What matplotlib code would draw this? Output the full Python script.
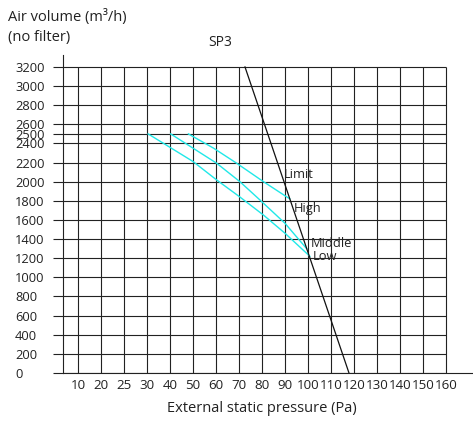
import numpy as np
import matplotlib
matplotlib.use("Agg")
import matplotlib.pyplot as plt
from matplotlib.ticker import FixedLocator, NullLocator

plt.rcParams['font.family'] = ['Open Sans', 'DejaVu Sans']

# ---- data ----
x_ticks = [10, 20, 25, 30, 40, 50, 60, 70, 80, 90, 100, 110, 120, 130, 140, 150, 160]
y_ticks = [0, 200, 400, 600, 800, 1000, 1200, 1400, 1600, 1800, 2000, 2200, 2400, 2500,
           2600, 2800, 3000, 3200]

low_p = [30.5, 50.1, 60.2, 70.4, 80.6, 90.0, 100.8]
low_q = [2500, 2210, 2020, 1840, 1652, 1461, 1220]
mid_p = [40.3, 60.3, 70.4, 79.1, 90.0, 99.4]
mid_q = [2500, 2193, 2000, 1809, 1565, 1300]
high_p = [48.0, 59.0, 69.0, 80.6, 92.1]
high_q = [2500, 2350, 2193, 2001, 1820]
limit_p = [72.6, 117.8]
limit_q = [3200, 0]

labels = ["Limit", "High", "Middle", "Low"]
label_p = [89.6, 93.9, 101.3, 102.2]
label_q = [2071, 1715, 1349, 1213]

# ---- categorical-like pressure scale ----
map_pa = [0] + x_ticks + [170, 180]
map_ix = list(range(-1, len(x_ticks) + 2))


def fwd(x):
    return np.interp(x, map_pa, map_ix)


def inv(i):
    return np.interp(i, map_ix, map_pa)


fig = plt.figure(figsize=(4.73, 4.22), dpi=100)
ax = fig.add_axes([63 / 473, (422 - 373) / 422, (473 - 63) / 473, (373 - 55) / 422])
ax.set_xscale('function', functions=(fwd, inv))
ax.set_xlim(3.5, 171.7)
ax.set_ylim(0, 3325)

gc = '#222222'
glw = 0.8
ax.hlines(y_ticks, 3.5, 160, colors=gc, linewidth=glw, zorder=1)
ax.vlines(x_ticks, 0, 3200, colors=gc, linewidth=glw, zorder=1)

cyan = '#20e8e8'
ax.plot(low_p, low_q, color=cyan, lw=1.0, zorder=3)
ax.plot(mid_p, mid_q, color=cyan, lw=1.0, zorder=3)
ax.plot(high_p, high_q, color=cyan, lw=1.0, zorder=3)
ax.plot(limit_p, limit_q, color='#111111', lw=0.9, zorder=4)

for t, p, q in zip(labels, label_p, label_q):
    ax.text(p, q, t, fontsize=9.3, color='#222222', ha='left', va='center', zorder=5)

for s in ['top', 'right']:
    ax.spines[s].set_visible(False)
for s in ['left', 'bottom']:
    ax.spines[s].set_color(gc)
    ax.spines[s].set_linewidth(glw)

ax.xaxis.set_major_locator(FixedLocator(x_ticks))
ax.xaxis.set_minor_locator(NullLocator())
ax.set_xticklabels([str(v) for v in x_ticks])
ax.yaxis.set_major_locator(FixedLocator(y_ticks))
ax.yaxis.set_minor_locator(NullLocator())
ax.set_yticklabels([str(v) for v in y_ticks])

ax.tick_params(axis='x', length=0, pad=4, labelsize=9.6, labelcolor='#222222')
ax.tick_params(axis='y', length=7.2, width=glw, color=gc, direction='out',
               pad=27.4, labelsize=9.3, labelcolor='#222222')
for lab in ax.get_yticklabels():
    lab.set_horizontalalignment('left')

ax.set_xlabel('External static pressure (Pa)', fontsize=10.5, color='#222222', labelpad=3)
ax.xaxis.set_label_coords((262 - 63) / (473 - 63), -(408 - 373) / (373 - 55), transform=ax.transAxes)
ax.xaxis.label.set_verticalalignment('center')

fig.text(8 / 473, 1 - 17 / 422, 'Air volume (m³/h)', fontsize=10.5, color='#222222',
         ha='left', va='center')
fig.text(8 / 473, 1 - 38 / 422, '(no filter)', fontsize=10.5, color='#222222',
         ha='left', va='center')
fig.text(220 / 473, 1 - 42 / 422, 'SP3', fontsize=10, color='#222222',
         ha='center', va='center')

fig.savefig('out.png', dpi=100)
